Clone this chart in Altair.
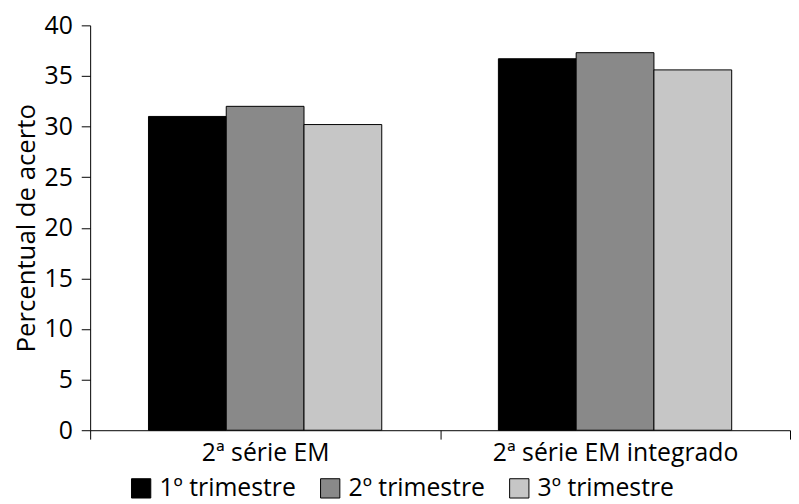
import altair as alt
import pandas as pd

series = ["2ª série EM", "2ª série EM integrado"]
periods = ["1º trimestre", "2º trimestre", "3º trimestre"]
values = [
    [31.0, 32.0, 30.2],
    [36.7, 37.3, 35.6],
]
colors = ["#000000", "#898989", "#c6c6c6"]

rows = []
for s, vals in zip(series, values):
    for p, v in zip(periods, vals):
        rows.append({"serie": s, "trimestre": p, "valor": v})
df = pd.DataFrame(rows)

font = "Open Sans"

chart = alt.Chart(df).mark_bar(stroke="black", strokeWidth=1).encode(
    x=alt.X("serie:N", sort=series, title=None,
            scale=alt.Scale(paddingInner=0, paddingOuter=0),
            axis=alt.Axis(labelAngle=0, labelFontSize=25, labelColor="black",
                          labelFont=font, labelLimit=0, tickBand="extent", tickSize=9,
                          tickColor="black", domainColor="black",
                          labelPadding=2)),
    xOffset=alt.XOffset("trimestre:N", sort=periods,
                        scale=alt.Scale(paddingInner=0, paddingOuter=0.75)),
    y=alt.Y("valor:Q", title="Percentual de acerto",
            scale=alt.Scale(domain=[0, 40]),
            axis=alt.Axis(values=[0, 5, 10, 15, 20, 25, 30, 35, 40], grid=False,
                          labelFontSize=25, labelColor="black", labelFont=font,
                          titleFontSize=26, titleFont=font, titleFontWeight="normal",
                          titleColor="black", titlePadding=5, tickSize=9,
                          tickColor="black", domainColor="black", labelPadding=9)),
    color=alt.Color("trimestre:N", sort=periods,
                    scale=alt.Scale(domain=periods, range=colors),
                    legend=alt.Legend(title=None, orient="none", direction="horizontal",
                                      legendX=39, legendY=455,
                                      symbolType="square", symbolSize=380,
                                      symbolStrokeColor="black", symbolStrokeWidth=1,
                                      labelFontSize=25, labelFont=font, labelColor="black",
                                      labelLimit=0, columnPadding=22, labelOffset=6)),
).properties(
    width=707,
    height=409,
    autosize=alt.AutoSizeParams(type="none"),
    padding={"left": 83, "top": 15, "right": 1, "bottom": 72},
).configure_view(stroke=None)

chart.save("out.html", embed_options={"renderer": "svg", "actions": False})
